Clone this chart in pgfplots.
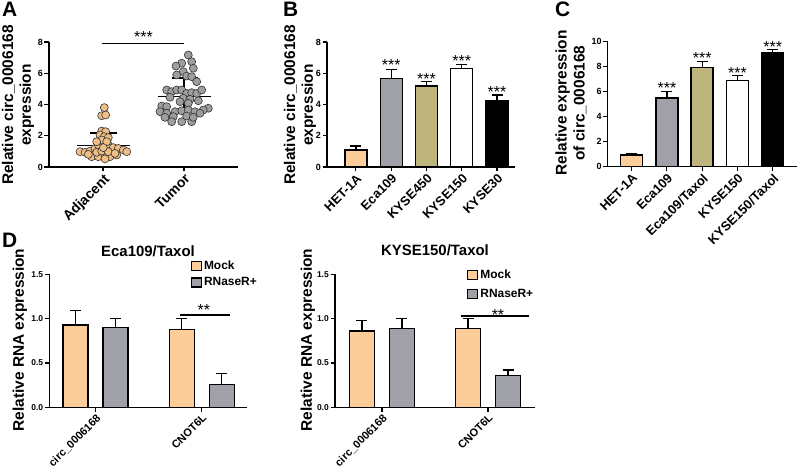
\documentclass[border=0pt]{standalone}
\usepackage{fontspec}
\setmainfont{Liberation Sans}
\usepackage{pgfplots}
\pgfplotsset{compat=1.18}
\definecolor{peach}{RGB}{253,205,153}
\definecolor{barg}{RGB}{160,160,168}
\definecolor{khaki}{RGB}{190,181,125}
\definecolor{dotor}{RGB}{238,190,134}
\definecolor{dotgr}{RGB}{158,158,160}
\newcommand{\fs}[1]{\fontsize{#1}{#1}\selectfont}
\tikzset{
  star/.style={anchor=base, yshift=-9bp, font=\fs{16}},
  sig/.style={black, line width=1.3bp},
}
\pgfplotsset{
  gp/.style={
    scale only axis, anchor=south west, clip=false,
    axis x line=bottom, axis y line=left,
    axis line style={-, line width=1.2bp, black},
    every tick/.style={black, line width=1.1bp},
    major tick length=4.5bp, tick align=outside,
    /pgf/number format/assume math mode=true,
    yticklabel style={font=\bfseries\fs{9}, inner sep=1.5bp},
    xticklabel style={font=\bfseries\fs{13}, rotate=45, anchor=north east, inner sep=1bp},
    ymin=0,
  },
  gpbar/.style={draw=black, line width=1.4bp,
    error bars/y dir=plus, error bars/y explicit,
    error bars/error bar style={line width=1.2bp, black},
    error bars/error mark options={rotate=90, mark size=5.5bp, line width=1.2bp, black}},
  sqleg/.style={legend image code/.code={\draw[##1, draw=black, line width=1.2bp] (0bp,-4.5bp) rectangle (10bp,4.5bp);}},
}
\begin{document}
\begin{tikzpicture}
\useasboundingbox (0bp,0bp) rectangle (797bp,476bp);
% panel letters
\node[anchor=north west, font=\bfseries\fs{21}, inner sep=0pt] at (2bp,474bp) {A};
\node[anchor=north west, font=\bfseries\fs{21}, inner sep=0pt] at (283bp,474bp) {B};
\node[anchor=north west, font=\bfseries\fs{21}, inner sep=0pt] at (555bp,474bp) {C};
\node[anchor=north west, font=\bfseries\fs{21}, inner sep=0pt] at (2bp,243bp) {D};
% y labels
\node[rotate=90, align=center, font=\bfseries\fontsize{15.5}{18}\selectfont] at (18bp,371bp) {Relative circ\_0006168\\expression};
\node[rotate=90, align=center, font=\bfseries\fontsize{15.5}{18}\selectfont] at (300bp,371bp) {Relative circ\_0006168\\expression};
\node[rotate=90, align=center, font=\bfseries\fontsize{15.5}{18}\selectfont] at (571bp,373bp) {Relative expression\\of circ\_0006168};
\node[rotate=90, font=\bfseries\fs{15.5}] at (20bp,136bp) {Relative RNA expression};
\node[rotate=90, font=\bfseries\fs{15.5}] at (308bp,136bp) {Relative RNA expression};

% ---------------- A ----------------
\begin{axis}[gp, at={(49bp,309bp)}, width=189bp, height=125bp,
  xmin=0.333, xmax=2.667, ymax=8, ytick={0,2,4,6,8},
  xtick={1,2}, xticklabels={Adjacent,Tumor}, xticklabel style={font=\bfseries\fs{14}}]
\addplot[only marks, mark=*, mark size=4bp, mark options={fill=dotor, draw=black!80, line width=0.6bp}] coordinates {
(1.016,3.80) (0.984,3.28) (1.033,3.33) (0.716,0.98) (0.778,0.94) (0.840,1.02) (0.901,1.19)
(0.942,1.41) (1.004,1.52) (1.065,1.41) (1.127,1.24) (1.189,1.19) (1.251,1.09) (1.293,0.98)
(0.860,0.66) (0.942,0.66) (1.025,0.77) (1.086,0.66) (1.169,0.77) (0.922,0.94) (0.984,1.02)
(1.065,0.98) (1.148,0.87) (0.819,0.81) (0.984,2.30) (1.033,2.26) (0.963,2.05) (1.016,1.94)
(1.065,1.88) (0.984,1.73) (1.046,1.62) (0.922,1.62) (1.004,1.24) (1.025,0.52)};
\addplot[only marks, mark=*, mark size=4bp, mark options={fill=dotgr, draw=black!80, line width=0.6bp}] coordinates {
(2.053,7.17) (1.972,6.64) (2.095,6.74) (1.901,6.46) (2.115,6.32) (1.991,6.10) (1.910,5.89)
(2.033,5.82) (2.095,5.78) (2.157,5.46) (1.786,4.93) (1.848,4.82) (1.910,4.93) (1.972,4.93)
(2.033,4.71) (2.095,4.76) (2.157,4.71) (2.219,4.93) (1.827,4.46) (1.991,4.40) (2.074,4.33)
(1.951,4.18) (2.053,4.08) (2.177,4.24) (1.725,3.90) (1.786,3.86) (2.300,3.76) (2.238,3.65)
(1.704,3.54) (1.786,3.44) (1.889,3.54) (1.972,3.60) (2.053,3.65) (2.136,3.54) (2.198,3.44)
(1.765,3.18) (1.868,3.22) (1.848,2.90) (1.972,2.90) (2.095,2.90) (2.033,3.26) (2.115,3.18)};
\addplot[sig] coordinates {(0.683,1.39) (1.333,1.39)};
\addplot[sig] coordinates {(1,0.62) (1,2.17)};
\addplot[sig] coordinates {(0.84,2.17) (1.17,2.17)};
\addplot[sig] coordinates {(1.675,4.5) (2.333,4.5)};
\addplot[sig] coordinates {(2,3.3) (2,5.7)};
\addplot[sig] coordinates {(1.848,5.7) (2.177,5.7)};
\addplot[sig] coordinates {(0.984,7.92) (2.004,7.92)};
\node[star] at (axis cs:1.5,8.56) {***};
\end{axis}

% ---------------- B ----------------
\begin{axis}[gp, ybar, bar width=22bp, at={(327bp,309bp)}, width=188bp, height=125bp,
  xmin=-0.82, xmax=4.51, ymax=8, ytick={0,2,4,6,8},
  xtick={0,...,4}, xticklabels={HET-1A,Eca109,KYSE450,KYSE150,KYSE30}]
\addplot[gpbar, bar shift=0pt, fill=peach, draw=black] coordinates {(0,1.09) +- (0,0.25)};
\addplot[gpbar, bar shift=0pt, fill=barg, draw=black] coordinates {(1,5.67) +- (0,0.58)};
\addplot[gpbar, bar shift=0pt, fill=khaki, draw=black] coordinates {(2,5.18) +- (0,0.28)};
\addplot[gpbar, bar shift=0pt, fill=white, draw=black] coordinates {(3,6.31) +- (0,0.26)};
\addplot[gpbar, bar shift=0pt, fill=black, draw=black] coordinates {(4,4.27) +- (0,0.34)};
\node[star] at (axis cs:1,6.74) {***};
\node[star] at (axis cs:2,5.87) {***};
\node[star] at (axis cs:3,7.02) {***};
\node[star] at (axis cs:4,5.03) {***};
\end{axis}

% ---------------- C ----------------
\begin{axis}[gp, ybar, bar width=22bp, at={(607.7bp,309.3bp)}, width=189.3bp, height=125.4bp,
  xmin=-0.68, xmax=4.69, ymax=10, ytick={0,2,4,6,8,10},
  xtick={0,...,4}, xticklabels={HET-1A,Eca109,Eca109/Taxol,KYSE150,KYSE150/Taxol}]
\addplot[gpbar, bar shift=0pt, fill=peach, draw=black] coordinates {(0,0.93) +- (0,0.11)};
\addplot[gpbar, bar shift=0pt, fill=barg, draw=black] coordinates {(1,5.48) +- (0,0.50)};
\addplot[gpbar, bar shift=0pt, fill=khaki, draw=black] coordinates {(2,7.90) +- (0,0.48)};
\addplot[gpbar, bar shift=0pt, fill=white, draw=black] coordinates {(3,6.89) +- (0,0.40)};
\addplot[gpbar, bar shift=0pt, fill=black, draw=black] coordinates {(4,9.12) +- (0,0.24)};
\node[star] at (axis cs:1,6.52) {***};
\node[star] at (axis cs:2,8.91) {***};
\node[star] at (axis cs:3,7.79) {***};
\node[star] at (axis cs:4,9.84) {***};
\end{axis}

% ---------------- D left ----------------
\begin{axis}[gp, ybar, bar width=25bp, at={(49.3bp,68.7bp)}, width=197.4bp, height=133bp,
  xmin=-0.4377, xmax=1.4245, ymax=1.5, ytick={0,0.5,1,1.5},
  yticklabel style={font=\bfseries\fs{8.5}, /pgf/number format/.cd, fixed, fixed zerofill, precision=1},
  xtick={0,1}, xticklabels={circ\_0006168,CNOT6L}, xticklabel style={font=\bfseries\fs{11}},
  title={Eca109/Taxol}, title style={font=\bfseries\fs{15}, at={(axis description cs:0.5,1.09)}, anchor=base},
  legend style={draw=none, fill=none, at={(axis description cs:0.716,1.12)}, anchor=north west,
    font=\bfseries\fs{12}, inner sep=0pt, row sep=3bp, cells={anchor=west}}]
\addplot[gpbar, bar shift=-20bp, fill=peach, draw=black, sqleg] coordinates {(0,0.93) +- (0,0.16) (1,0.88) +- (0,0.12)};
\addlegendentry{Mock}
\addplot[gpbar, bar shift=20bp, fill=barg, draw=black, sqleg] coordinates {(0,0.90) +- (0,0.10) (1,0.26) +- (0,0.12)};
\addlegendentry{RNaseR+}
\addplot[sig, sharp plot, forget plot] coordinates {(0.795,1.04) (1.267,1.04)};
\node[star] at (axis cs:1.02,1.135) {**};
\end{axis}

% ---------------- D right ----------------
\begin{axis}[gp, ybar, bar width=25bp, at={(335bp,68.7bp)}, width=200bp, height=133bp,
  xmin=-0.443, xmax=1.443, ymax=1.5, ytick={0,0.5,1,1.5},
  yticklabel style={font=\bfseries\fs{8.5}, /pgf/number format/.cd, fixed, fixed zerofill, precision=1},
  xtick={0,1}, xticklabels={circ\_0006168,CNOT6L}, xticklabel style={font=\bfseries\fs{11}},
  title={KYSE150/Taxol}, title style={font=\bfseries\fs{15}, at={(axis description cs:0.5,1.10)}, anchor=base},
  legend style={draw=none, fill=none, at={(axis description cs:0.66,1.05)}, anchor=north west,
    font=\bfseries\fs{12}, inner sep=0pt, row sep=5bp, cells={anchor=west}}]
\addplot[gpbar, bar shift=-20bp, fill=peach, draw=black, sqleg] coordinates {(0,0.86) +- (0,0.12) (1,0.89) +- (0,0.11)};
\addlegendentry{Mock}
\addplot[gpbar, bar shift=20bp, fill=barg, draw=black, sqleg] coordinates {(0,0.89) +- (0,0.11) (1,0.36) +- (0,0.06)};
\addlegendentry{RNaseR+}
\addplot[sig, sharp plot, forget plot] coordinates {(0.742,1.03) (1.387,1.03)};
\node[star] at (axis cs:1.094,1.086) {**};
\end{axis}
\end{tikzpicture}
\end{document}
